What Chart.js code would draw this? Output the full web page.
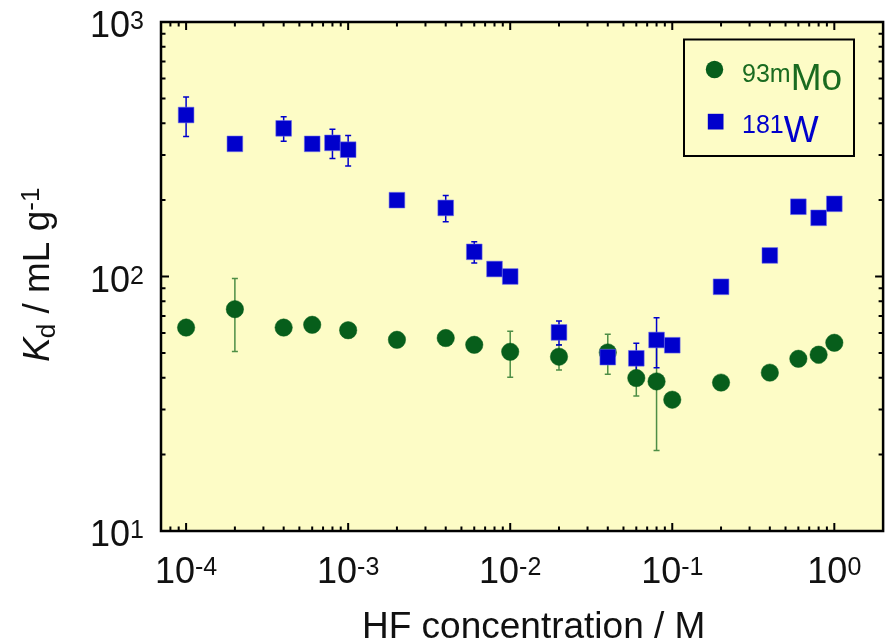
<!DOCTYPE html>
<html><head><meta charset="utf-8">
<script src="https://cdn.jsdelivr.net/npm/chart.js@4.4.0/dist/chart.umd.min.js"></script>
<style>html,body{margin:0;padding:0;background:#fff;} canvas{display:block;}</style>
</head><body>
<canvas id="c" width="895" height="643"></canvas>
<script>
// ---- data ----
const hfMo  = [1e-4, 2e-4, 4e-4, 6e-4, 1e-3, 2e-3, 4e-3, 6e-3, 1e-2, 2e-2, 4e-2, 6e-2, 8e-2, 0.1, 0.2, 0.4, 0.6, 0.8, 1.0];
const kdMo  = [63.0, 74.4, 63.0, 64.6, 61.5, 56.4, 57.3, 53.9, 50.6, 48.4, 50.3, 39.9, 38.7, 32.8, 38.3, 41.9, 47.5, 49.3, 54.9];
const errMo = [0, 23.7, 0, 0, 3.6, 0, 0, 0, 10.4, 5.5, 9.0, 6.0, 18.0, 0, 0, 0, 0, 3.5, 0];

const hfW  = [1e-4, 2e-4, 4e-4, 6e-4, 8e-4, 1e-3, 2e-3, 4e-3, 6e-3, 8e-3, 1e-2, 2e-2, 4e-2, 6e-2, 8e-2, 0.1, 0.2, 0.4, 0.6, 0.8, 1.0];
const kdW  = [431, 332, 382, 332, 335, 315, 199.5, 186, 125, 107, 100, 60.3, 48.2, 47.7, 56.3, 53.7, 91.1, 121, 188, 170, 193];
const errW = [76, 0, 42, 0, 44, 43, 0, 22, 12, 0, 0, 6.5, 0, 7, 12.5, 0, 3, 0, 0, 0, 0];

const xTickValues = [1e-4, 1e-3, 1e-2, 1e-1, 1];
const xTickExponents = ['-4', '-3', '-2', '-1', '0'];
const yTickValues = [10, 100, 1000];
const yTickExponents = ['1', '2', '3'];

const seriesNames = [['93m', 'Mo'], ['181', 'W']];
const xTitle = 'HF concentration / M';

const X_MIN = 7e-5, X_MAX = 2.0, Y_MIN = 10, Y_MAX = 1000;

const FONT = '"Liberation Sans", Arial, sans-serif';
const GREEN = '#075E1B';
const GREEN_TXT = '#1A6B20';
const GREEN_ERR = '#4E8E46';
const BLUE = '#0000CC';
const PLOT_BG = '#FDFCC6';

function powerLabel(ctx, base, exp, x, y, align, bs, ss, color) {
  ctx.fillStyle = color || '#000';
  ctx.font = bs + 'px ' + FONT;
  const wb = ctx.measureText(base).width;
  ctx.font = ss + 'px ' + FONT;
  const ws = ctx.measureText(exp).width;
  const total = wb + ws;
  let x0 = align === 'center' ? x - total / 2 : (align === 'right' ? x - total : x);
  ctx.textAlign = 'left';
  ctx.textBaseline = 'alphabetic';
  ctx.font = bs + 'px ' + FONT;
  ctx.fillText(base, x0, y);
  ctx.font = ss + 'px ' + FONT;
  ctx.fillText(exp, x0 + wb, y - 0.716 * (bs - ss));
  return total;
}

const decor = {
  id: 'decor',
  beforeDraw(chart) {
    const ctx = chart.ctx, a = chart.chartArea;
    ctx.save();
    ctx.fillStyle = '#fff';
    ctx.fillRect(0, 0, chart.width, chart.height);
    ctx.fillStyle = PLOT_BG;
    ctx.fillRect(a.left, a.top, a.right - a.left, a.bottom - a.top);
    ctx.restore();
  },
  beforeDatasetsDraw(chart) {
    const ctx = chart.ctx, xs = chart.scales.x, ys = chart.scales.y;
    ctx.save();
    function bars(xv, yv, ev, color) {
      ctx.strokeStyle = color;
      ctx.lineWidth = 1.5;
      for (let i = 0; i < xv.length; i++) {
        if (!ev[i]) continue;
        const px = xs.getPixelForValue(xv[i]);
        const p1 = ys.getPixelForValue(yv[i] + ev[i]);
        const p2 = ys.getPixelForValue(Math.max(yv[i] - ev[i], 1e-9));
        ctx.beginPath();
        ctx.moveTo(px, p1); ctx.lineTo(px, p2);
        ctx.moveTo(px - 3, p1); ctx.lineTo(px + 3, p1);
        ctx.moveTo(px - 3, p2); ctx.lineTo(px + 3, p2);
        ctx.stroke();
      }
    }
    bars(hfMo, kdMo, errMo, GREEN_ERR);
    bars(hfW, kdW, errW, BLUE);
    ctx.restore();
  },
  afterDatasetsDraw(chart) {
    const ctx = chart.ctx, a = chart.chartArea, xs = chart.scales.x, ys = chart.scales.y;
    ctx.save();
    // ticks
    ctx.strokeStyle = '#000';
    ctx.lineWidth = 2;
    const MAJ = 8, MIN = 4.5;
    ctx.beginPath();
    for (let e = -5; e <= 0; e++) {
      for (let m = 1; m <= 9; m++) {
        const v = m * Math.pow(10, e);
        if (v <= X_MIN * 1.001 || v >= X_MAX * 0.999) continue;
        const px = xs.getPixelForValue(v);
        const L = m === 1 ? MAJ : MIN;
        ctx.moveTo(px, a.bottom); ctx.lineTo(px, a.bottom - L);
        ctx.moveTo(px, a.top); ctx.lineTo(px, a.top + L);
      }
    }
    for (let e = 1; e <= 3; e++) {
      for (let m = 1; m <= 9; m++) {
        const v = m * Math.pow(10, e);
        if (v < Y_MIN * 1.001 || v > Y_MAX * 0.999) continue;
        const py = ys.getPixelForValue(v);
        const L = m === 1 ? MAJ : MIN;
        ctx.moveTo(a.left, py); ctx.lineTo(a.left + L, py);
        ctx.moveTo(a.right, py); ctx.lineTo(a.right - L, py);
      }
    }
    ctx.stroke();
    // frame
    ctx.lineWidth = 2.5;
    ctx.strokeRect(a.left, a.top, a.right - a.left, a.bottom - a.top);

    // tick labels
    xTickValues.forEach((v, i) => {
      powerLabel(ctx, '10', xTickExponents[i], xs.getPixelForValue(v), a.bottom + 52, 'center', 36, 25, '#111');
    });
    yTickValues.forEach((v, i) => {
      powerLabel(ctx, '10', yTickExponents[i], a.left - 17, ys.getPixelForValue(v) + 15, 'right', 36, 25, '#111');
    });

    // x title
    ctx.fillStyle = '#111';
    ctx.font = '37px ' + FONT;
    ctx.textAlign = 'left';
    ctx.textBaseline = 'alphabetic';
    ctx.fillText(xTitle, 362, 638);

    // y title (rotated)
    ctx.save();
    ctx.translate(49, 362);
    ctx.rotate(-Math.PI / 2);
    let x = 0;
    ctx.font = 'italic 37px ' + FONT;
    ctx.fillText('K', x, 0); x += ctx.measureText('K').width - 1;
    ctx.font = '26px ' + FONT;
    ctx.fillText('d', x, 6); x += ctx.measureText('d').width;
    ctx.font = '37px ' + FONT;
    ctx.fillText(' / mL g', x, 0); x += ctx.measureText(' / mL g').width;
    ctx.font = '26px ' + FONT;
    ctx.fillText('-1', x, -10);
    ctx.restore();

    // legend
    ctx.lineWidth = 2;
    ctx.strokeStyle = '#000';
    ctx.strokeRect(684, 39.5, 170, 116.5);
    ctx.fillStyle = GREEN;
    ctx.beginPath(); ctx.arc(714.5, 69.5, 8.7, 0, Math.PI * 2); ctx.fill();
    // "93mMo"
    ctx.fillStyle = GREEN_TXT;
    ctx.font = '25px ' + FONT;
    ctx.fillText(seriesNames[0][0], 742, 81.5);
    let w1 = ctx.measureText(seriesNames[0][0]).width;
    ctx.font = '37px ' + FONT;
    ctx.fillText(seriesNames[0][1], 742 + w1, 90);
    // "181W"
    ctx.fillStyle = BLUE;
    ctx.fillRect(707.8, 113.8, 15.7, 15.7);
    ctx.font = '25px ' + FONT;
    ctx.fillText(seriesNames[1][0], 742, 132.5);
    let w2 = ctx.measureText(seriesNames[1][0]).width;
    ctx.font = '37px ' + FONT;
    ctx.fillText(seriesNames[1][1], 742 + w2, 141.5);
    ctx.restore();
  }
};

new Chart(document.getElementById('c'), {
  type: 'scatter',
  data: {
    datasets: [
      {
        label: '181W',
        data: hfW.map((v, i) => ({ x: v, y: kdW[i] })),
        pointStyle: 'rect',
        pointRadius: 11.1,
        pointHoverRadius: 11.1,
        backgroundColor: BLUE,
        borderColor: 'rgba(110,110,235,0.7)',
        borderWidth: 0.8,
        showLine: false,
        order: 0
      },
      {
        label: '93mMo',
        data: hfMo.map((v, i) => ({ x: v, y: kdMo[i] })),
        pointStyle: 'circle',
        pointRadius: 8.7,
        pointHoverRadius: 8.7,
        backgroundColor: GREEN,
        borderColor: GREEN,
        borderWidth: 0.5,
        showLine: false,
        order: 1
      }
    ]
  },
  options: {
    responsive: false,
    animation: false,
    events: [],
    layout: { padding: { left: 161, top: 22, right: 8, bottom: 112 } },
    plugins: { legend: { display: false }, tooltip: { enabled: false } },
    scales: {
      x: { type: 'logarithmic', min: X_MIN, max: X_MAX, display: false },
      y: { type: 'logarithmic', min: Y_MIN, max: Y_MAX, display: false }
    }
  },
  plugins: [decor]
});
</script>
</body></html>
